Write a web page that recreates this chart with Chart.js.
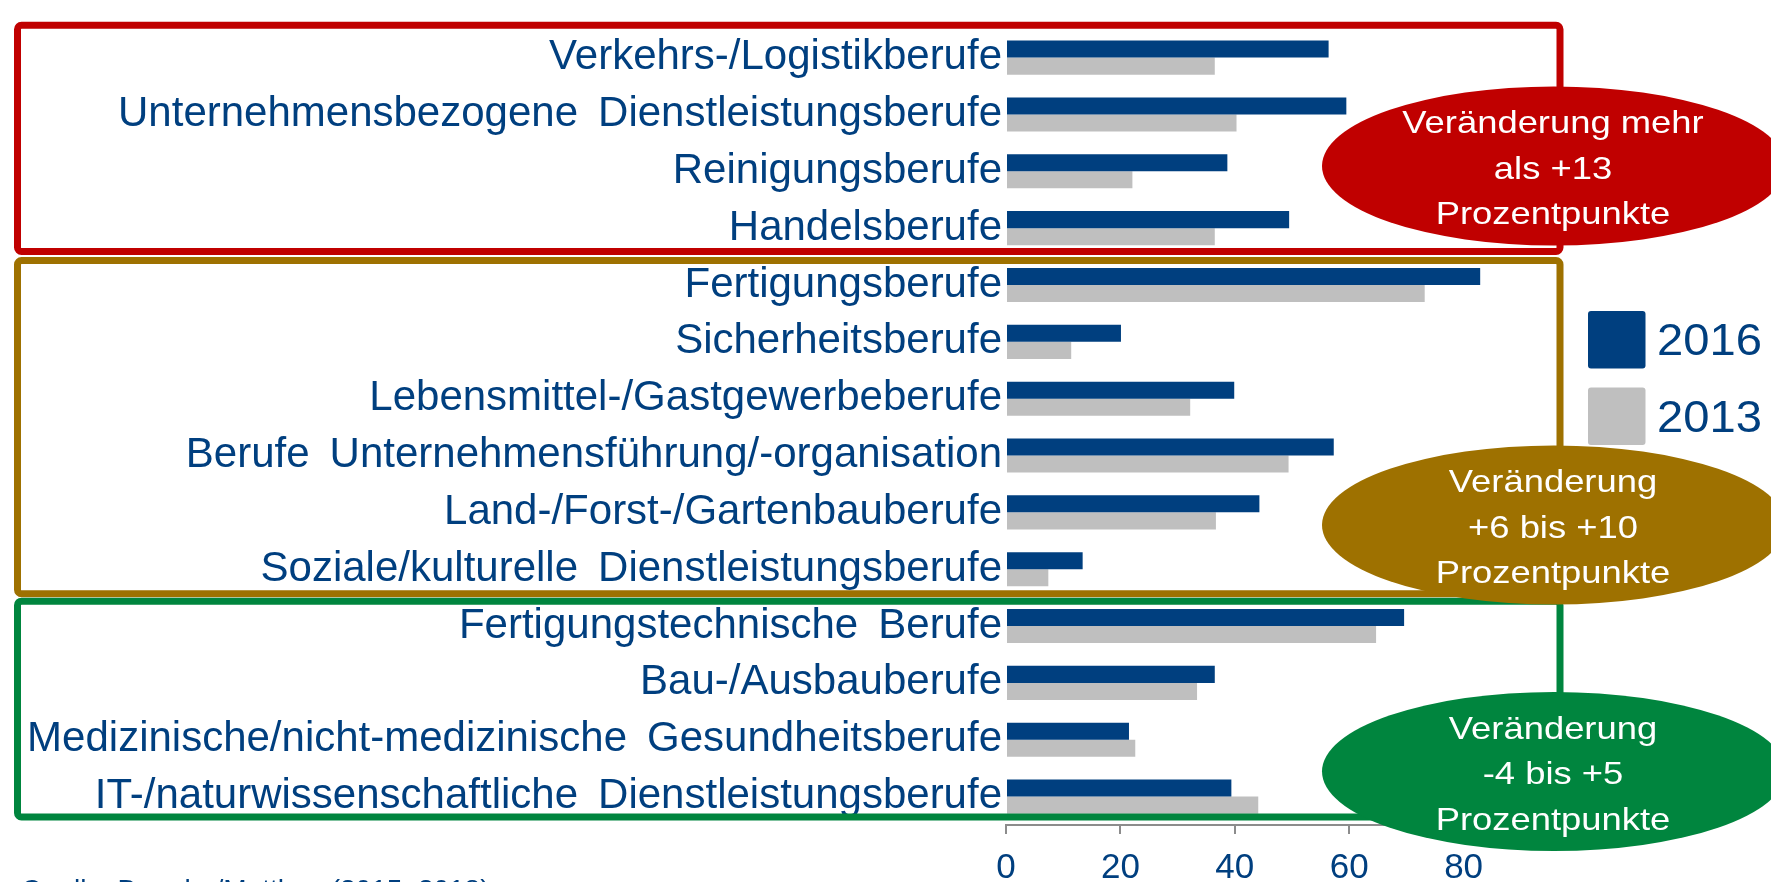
<!DOCTYPE html>
<html>
<head>
<meta charset="utf-8">
<script src="https://cdn.jsdelivr.net/npm/chart.js@4.4.1/dist/chart.umd.min.js"></script>
<style>
html,body{margin:0;padding:0;background:#fff;}
#wrap{width:1771px;height:882px;position:relative;}
canvas{display:block;}
</style>
</head>
<body>
<div id="wrap"><canvas id="c" width="1771" height="882"></canvas></div>
<script>
const categories = [
  "Verkehrs-/Logistikberufe",
  "Unternehmensbezogene Dienstleistungsberufe",
  "Reinigungsberufe",
  "Handelsberufe",
  "Fertigungsberufe",
  "Sicherheitsberufe",
  "Lebensmittel-/Gastgewerbeberufe",
  "Berufe Unternehmensführung/-organisation",
  "Land-/Forst-/Gartenbauberufe",
  "Soziale/kulturelle Dienstleistungsberufe",
  "Fertigungstechnische Berufe",
  "Bau-/Ausbauberufe",
  "Medizinische/nicht-medizinische Gesundheitsberufe",
  "IT-/naturwissenschaftliche Dienstleistungsberufe"
];
const values2016 = [56.4, 59.5, 38.7, 49.5, 82.9, 20.1, 39.9, 57.3, 44.3, 13.4, 69.6, 36.5, 21.5, 39.4];
const values2013 = [36.5, 40.3, 22.1, 36.5, 73.2, 11.4, 32.2, 49.4, 36.7, 7.4, 64.7, 33.4, 22.6, 44.1];
const seriesLabels = ["2016", "2013"];
const xTicks = [0, 20, 40, 60, 80];
const groups = [
  {first: 0, last: 3, color: "#C00000", lines: ["Veränderung mehr", "als +13", "Prozentpunkte"]},
  {first: 4, last: 9, color: "#9E7100", lines: ["Veränderung", "+6 bis +10", "Prozentpunkte"]},
  {first: 10, last: 13, color: "#00853E", lines: ["Veränderung", "-4 bis +5", "Prozentpunkte"]}
];
const sourceText = "Quelle: Dengler/Matthes (2015, 2018)";

const FONT = "'Liberation Sans', Arial, Helvetica, sans-serif";
const BLUE = "#003F7F";
const GRAY = "#BFBFBF";

function roundRectPath(ctx, x, y, w, h, r) {
  ctx.beginPath();
  ctx.moveTo(x + r, y);
  ctx.lineTo(x + w - r, y);
  ctx.arcTo(x + w, y, x + w, y + r, r);
  ctx.lineTo(x + w, y + h - r);
  ctx.arcTo(x + w, y + h, x + w - r, y + h, r);
  ctx.lineTo(x + r, y + h);
  ctx.arcTo(x, y + h, x, y + h - r, r);
  ctx.lineTo(x, y + r);
  ctx.arcTo(x, y, x + r, y, r);
  ctx.closePath();
}

const overlayPlugin = {
  id: "overlay",
  afterDraw(chart) {
    const ctx = chart.ctx;
    const ys = chart.scales.y;
    const half = (ys.getPixelForValue(1) - ys.getPixelForValue(0)) / 2;
    const insets = [[-4, -5], [4, -4], [3.5, -8]];
    const boxLeft = 17.5, boxRight = 1560;
    ctx.save();
    // group frames
    groups.forEach((g, i) => {
      const top = ys.getPixelForValue(g.first) - half + insets[i][0];
      const bottom = ys.getPixelForValue(g.last) + half + insets[i][1];
      ctx.lineWidth = 7;
      ctx.strokeStyle = g.color;
      roundRectPath(ctx, boxLeft, top, boxRight - boxLeft, bottom - top, 4);
      ctx.stroke();
    });
    // ellipses with text
    const ellCenters = [166, 525, 771.5];
    groups.forEach((g, i) => {
      const cx = 1554, cy = ellCenters[i];
      ctx.beginPath();
      ctx.ellipse(cx, cy, 232, 79.5, 0, 0, Math.PI * 2);
      ctx.fillStyle = g.color;
      ctx.fill();
      ctx.fillStyle = "#FFFFFF";
      ctx.font = "31.5px " + FONT;
      ctx.textAlign = "center";
      ctx.textBaseline = "alphabetic";
      g.lines.forEach((ln, k) => {
        ctx.save();
        ctx.translate(cx - 1, cy + (k - 1) * 45.5 + 1.5 + 11.3);
        ctx.scale(1.155, 1);
        ctx.fillText(ln, 0, 0);
        ctx.restore();
      });
    });
    // legend
    const ds = chart.data.datasets;
    const legY = [311, 387.5];
    ds.forEach((d, i) => {
      ctx.fillStyle = d.backgroundColor;
      roundRectPath(ctx, 1588, legY[i], 57.5, 57.5, 3);
      ctx.fill();
      ctx.fillStyle = BLUE;
      ctx.font = "44.5px " + FONT;
      ctx.textAlign = "left";
      ctx.textBaseline = "alphabetic";
      ctx.save();
      ctx.translate(1657, legY[i] + 28 + 16);
      ctx.scale(1.06, 1);
      ctx.fillText(d.label, 0, 0);
      ctx.restore();
    });
    // source
    ctx.fillStyle = BLUE;
    ctx.font = "28px " + FONT;
    ctx.textAlign = "left";
    ctx.textBaseline = "alphabetic";
    ctx.fillText(sourceText, 21, 899);
    ctx.restore();
  }
};

const chart = new Chart(document.getElementById("c"), {
  type: "bar",
  data: {
    labels: categories,
    datasets: [
      {label: seriesLabels[0], data: values2016, backgroundColor: BLUE, categoryPercentage: 0.6, barPercentage: 1.0},
      {label: seriesLabels[1], data: values2013, backgroundColor: GRAY, categoryPercentage: 0.6, barPercentage: 1.0}
    ]
  },
  options: {
    indexAxis: "y",
    responsive: false,
    animation: false,
    devicePixelRatio: 1,
    layout: {padding: {top: 14.5, left: 0, right: 1771 - (1006 + 90 * 5.72), bottom: 0}},
    plugins: {legend: {display: false}, tooltip: {enabled: false}},
    scales: {
      y: {
        grid: {display: false, drawTicks: false, tickLength: 0},
        border: {display: false},
        ticks: {
          color: BLUE,
          font: {family: FONT, size: 42},
          padding: 4,
          autoSkip: false,
          callback: (v, i) => categories[i].replace(/ /g, " \u2009")
        },
        afterFit(scale) { scale.width = 1006; }
      },
      x: {
        min: 0,
        max: 90,
        grid: {display: true, drawOnChartArea: false, drawTicks: true, tickLength: 9, color: "#8C8C8C", lineWidth: 2},
        border: {display: true, color: "#8C8C8C", width: 2},
        ticks: {
          stepSize: 20,
          includeBounds: false,
          color: BLUE,
          font: {family: FONT, size: 35},
          padding: 13,
          callback: (v) => xTicks.includes(v) ? String(v) : ""
        },
        afterFit(scale) { scale.height = 57; }
      }
    }
  },
  plugins: [overlayPlugin]
});
</script>
</body>
</html>
